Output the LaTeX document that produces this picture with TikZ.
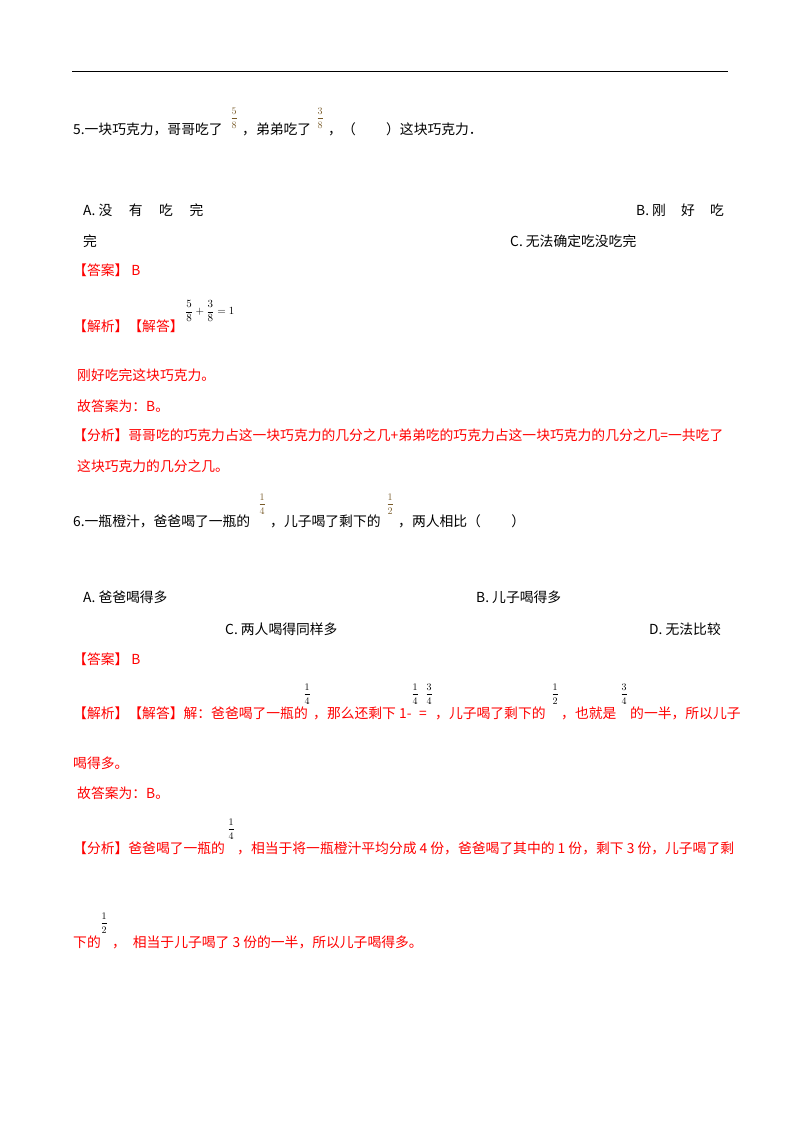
\documentclass[tikz,border=0pt]{standalone}
\usepackage{fontspec}
\setmainfont{Liberation Serif}
\newfontfamily\cjk{Noto Sans CJK SC}
\definecolor{ared}{RGB}{255,0,0}
\definecolor{fracc}{RGB}{120,90,40}
\begin{document}
\begin{tikzpicture}[x=1pt,y=-1pt,
  t/.style={anchor=base west,inner sep=0,font=\cjk\fontsize{13.8}{14}\selectfont},
  r/.style={t,text=ared},
  f/.style={anchor=center,inner sep=0,font=\fontsize{10}{10}\selectfont},
  fb/.style={f,text=fracc,font=\bfseries\fontsize{10}{10}\selectfont}]
\useasboundingbox (0,0) rectangle (800,1132);
\coordinate (l1) at (72,71); \coordinate (l2) at (728,71);
\draw[line width=0.8pt] (l1) -- (l2);
% Q5
\node[t] (q5a) at (73,134) {5.一块巧克力，哥哥吃了};
\node[fb] (q5f1) at (234,118) {$\displaystyle\frac{5}{8}$};
\node[t] (q5b) at (242,134) {，弟弟吃了};
\node[fb] (q5f2) at (320,118) {$\displaystyle\frac{3}{8}$};
\node[t] (q5c) at (328,134) {，（\hspace{2.2em}）这块巧克力．};
\node[t] (q5A) at (83,215) {A. 没\hspace{1.2em}有\hspace{1.2em}吃\hspace{1.2em}完};
\node[t] (q5B) at (636,215) {B. 刚\hspace{1.1em}好\hspace{1.1em}吃};
\node[t] (q5A2) at (83,246) {完};
\node[t] (q5C) at (510,246) {C. 无法确定吃没吃完};
\node[r] (q5ans) at (73,275) {【答案】 B};
\node[r] (q5jx) at (73,331) {【解析】【解答】};
\node[f,anchor=west,font=\fontsize{11}{11}\selectfont] (q5eq) at (185,311) {$\displaystyle\frac{5}{8}+\frac{3}{8}=1$};
\node[r] (q5s1) at (77,380) {刚好吃完这块巧克力。};
\node[r] (q5s2) at (77,411) {故答案为：B。};
\node[r] (q5fx) at (73,440) {【分析】哥哥吃的巧克力占这一块巧克力的几分之几+弟弟吃的巧克力占这一块巧克力的几分之几=一共吃了};
\node[r] (q5fx2) at (77,471) {这块巧克力的几分之几。};
% Q6
\node[t] (q6a) at (73,526) {6.一瓶橙汁，爸爸喝了一瓶的};
\node[fb] (q6f1) at (262,504) {$\displaystyle\frac{1}{4}$};
\node[t] (q6b) at (270,526) {，儿子喝了剩下的};
\node[fb] (q6f2) at (390,504) {$\displaystyle\frac{1}{2}$};
\node[t] (q6c) at (398,526) {，两人相比（\hspace{2.2em}）};
\node[t] (q6A) at (83,602) {A. 爸爸喝得多};
\node[t] (q6B) at (476,602) {B. 儿子喝得多};
\node[t] (q6C) at (225,634) {C. 两人喝得同样多};
\node[t] (q6D) at (649,634) {D. 无法比较};
\node[r] (q6ans) at (73,664) {【答案】 B};
\node[r] (q6j1) at (73,718) {【解析】【解答】解：爸爸喝了一瓶的};
\node[f] (q6g1) at (307,694) {$\displaystyle\frac{1}{4}$};
\node[r] (q6j2) at (313,718) {，那么还剩下 1-};
\node[f] (q6g2) at (415,694) {$\displaystyle\frac{1}{4}$};
\node[r] (q6j3) at (419,718) {=};
\node[f] (q6g3) at (429,694) {$\displaystyle\frac{3}{4}$};
\node[r] (q6j4) at (435,718) {，儿子喝了剩下的};
\node[f] (q6g4) at (555,694) {$\displaystyle\frac{1}{2}$};
\node[r] (q6j5) at (561,718) {，也就是};
\node[f] (q6g5) at (624,694) {$\displaystyle\frac{3}{4}$};
\node[r] (q6j6) at (630,718) {的一半，所以儿子};
\node[r] (q6j7) at (73,768) {喝得多。};
\node[r] (q6s2) at (77,798) {故答案为：B。};
\node[r] (q6fx1) at (73,853) {【分析】爸爸喝了一瓶的};
\node[f] (q6h1) at (231,829) {$\displaystyle\frac{1}{4}$};
\node[r] (q6fx2) at (237,853) {，相当于将一瓶橙汁平均分成 4 份，爸爸喝了其中的 1 份，剩下 3 份，儿子喝了剩};
\node[r] (q6fx3) at (73,947) {下的};
\node[f] (q6h2) at (104,923) {$\displaystyle\frac{1}{2}$};
\node[r] (q6fx4) at (112,947) {，\hspace{0.5em}相当于儿子喝了 3 份的一半，所以儿子喝得多。};
\end{tikzpicture}
\end{document}
